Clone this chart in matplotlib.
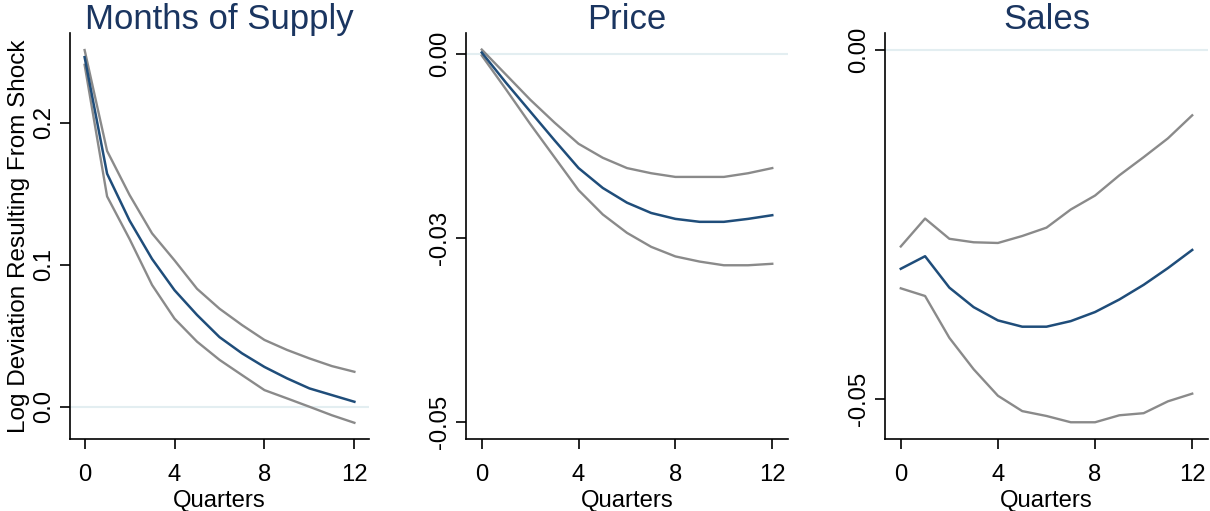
import matplotlib
matplotlib.use("Agg")
import matplotlib.pyplot as plt
import numpy as np

plt.rcParams["font.family"] = ["Liberation Sans", "DejaVu Sans"]

quarters = np.arange(13)

# Months of supply impulse response and bands
mos_mid = [0.246, 0.164, 0.131, 0.104, 0.082, 0.0646, 0.049, 0.0376, 0.028,
           0.020, 0.0129, 0.0082, 0.0035]
mos_hi = [0.251, 0.180, 0.149, 0.122, 0.103, 0.083, 0.069, 0.0575, 0.047,
          0.040, 0.034, 0.0286, 0.0246]
mos_lo = [0.2406, 0.148, 0.118, 0.0857, 0.062, 0.0458, 0.033, 0.0223, 0.0117,
          0.0059, 0.0, -0.006, -0.0113]

# Price
price_mid = [0.0002, -0.0039, -0.0078, -0.0117, -0.0155, -0.0182, -0.0202,
             -0.0216, -0.0224, -0.0228, -0.0228, -0.0224, -0.0219]
price_hi = [0.0006, -0.0028, -0.0062, -0.0093, -0.0122, -0.0141, -0.0155,
            -0.0162, -0.0167, -0.0167, -0.0167, -0.0162, -0.0155]
price_lo = [-0.0002, -0.0048, -0.0095, -0.0140, -0.0185, -0.0218, -0.0243,
            -0.0262, -0.0275, -0.0282, -0.0287, -0.0287, -0.0285]

# Sales
sales_mid = [-0.0314, -0.0296, -0.0341, -0.0369, -0.0388, -0.0397, -0.0397,
             -0.0389, -0.0376, -0.0358, -0.0337, -0.0313, -0.0287]
sales_hi = [-0.0282, -0.0242, -0.0271, -0.0276, -0.0277, -0.0267, -0.0255,
            -0.0229, -0.0209, -0.0180, -0.0154, -0.0127, -0.0094]
sales_lo = [-0.0342, -0.0353, -0.0413, -0.0458, -0.0496, -0.0518, -0.0525,
            -0.0534, -0.0534, -0.0524, -0.0521, -0.0504, -0.0493]

titles = ["Months of Supply", "Price", "Sales"]
yticks = [[0.0, 0.1, 0.2], [0.0, -0.025, -0.05], [0.0, -0.05]]
ytick_labels = [["0.0", "0.1", "0.2"], ["0.00", "-0.03", "-0.05"], ["0.00", "-0.05"]]
ylims = [(-0.0227, 0.263), (-0.0523, 0.00285), (-0.0558, 0.0024)]
xticks = [0, 4, 8, 12]

series = [
    (mos_mid, mos_hi, mos_lo),
    (price_mid, price_hi, price_lo),
    (sales_mid, sales_hi, sales_lo),
]

W, H = 1210, 511
boxes = [(70, 369), (466, 788), (885, 1208)]
top, bottom = 33, 439

fig = plt.figure(figsize=(W / 100, H / 100), dpi=100)
fig.patch.set_facecolor("white")

navy = "#1a3560"
blue = "#1f4d7a"
grey = "#8a8a8a"
zero_col = "#e3eef1"

for i, (l, r) in enumerate(boxes):
    ax = fig.add_axes([l / W, (H - bottom) / H, (r - l) / W, (bottom - top) / H])
    mid, hi, lo = series[i]
    ax.axhline(0, color=zero_col, lw=1.5, zorder=1)
    ax.plot(quarters, hi, color=grey, lw=1.7, zorder=2)
    ax.plot(quarters, lo, color=grey, lw=1.7, zorder=2)
    ax.plot(quarters, mid, color=blue, lw=1.8, zorder=3)
    ax.set_xlim(-0.65, 12.65)
    ax.set_ylim(*ylims[i])
    ax.set_xticks(xticks)
    ax.set_yticks(yticks[i])
    ax.set_yticklabels(ytick_labels[i], rotation=90, va="center")
    ax.tick_params(axis="both", labelsize=17.2, length=7, width=1.2,
                   color="black")
    ax.tick_params(axis="x", pad=11)
    ax.tick_params(axis="y", pad=4)
    for s in ["top", "right"]:
        ax.spines[s].set_visible(False)
    for s in ["left", "bottom"]:
        ax.spines[s].set_linewidth(1.2)
    ax.set_xlabel("Quarters", fontsize=17.2, labelpad=3)
    # title placed by baseline so it sits just over the top of the axis
    fig.text((l + r) / 2 / W, (H - 29) / H, titles[i], fontsize=25,
             color=navy, ha="center", va="baseline")
    if i == 0:
        ax.set_ylabel("Log Deviation Resulting From Shock", fontsize=17.5,
                      labelpad=2)

fig.savefig("out.png", dpi=100, facecolor="white")
